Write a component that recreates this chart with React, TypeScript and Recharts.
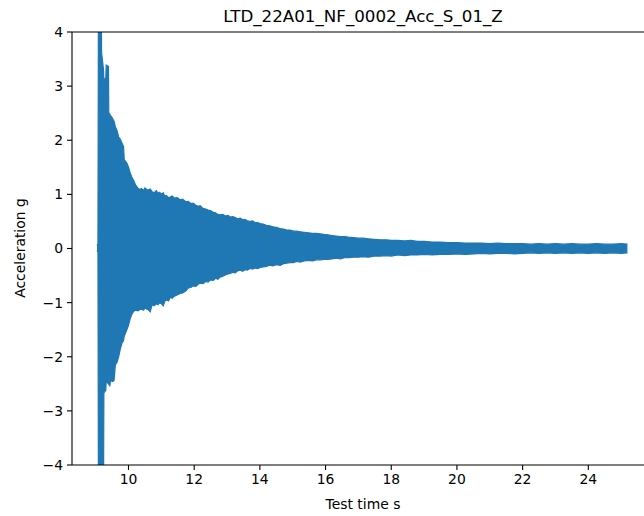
import { Area, ComposedChart, ReferenceLine, XAxis, YAxis } from "recharts";

// envelope of the acceleration signal
const TIME = [
  9.04, 9.07, 9.085, 9.17, 9.18, 9.24, 9.25, 9.31, 9.32, 9.39,
  9.4, 9.43, 9.46, 9.5, 9.56, 9.6, 9.65, 9.7, 9.75, 9.8,
  9.85, 9.87, 9.95, 10.0, 10.05, 10.1, 10.16, 10.22,
  10.28, 10.34, 10.4, 10.46, 10.5, 10.56, 10.6, 10.66, 10.72, 10.78,
  10.85, 10.9, 10.95, 11.0, 11.06, 11.1, 11.15, 11.22, 11.27, 11.33,
  11.4, 11.48, 11.57, 11.65, 11.75, 11.82, 11.9, 11.97, 12.05, 12.12,
  12.18, 12.27, 12.35, 12.42, 12.5, 12.58, 12.65, 12.72, 12.79, 12.87,
  12.95, 13.03, 13.1, 13.18, 13.25, 13.33, 13.4, 13.48, 13.55, 13.62,
  13.7, 13.78, 13.85, 13.93, 14.01, 14.1, 14.2, 14.3, 14.4, 14.5,
  14.62, 14.72, 14.82, 14.92, 15.02, 15.12, 15.23, 15.35, 15.48, 15.6,
  15.72, 15.84, 15.95, 16.08, 16.2, 16.32, 16.45, 16.58, 16.7, 16.85,
  17.0, 17.15, 17.3, 17.48, 17.67, 17.85, 18.0, 18.2, 18.4, 18.6,
  18.8, 19.0, 19.25, 19.5, 19.75, 20.0, 20.25, 20.5, 20.75, 21.0,
  21.25, 21.5, 21.75, 22.0, 22.25, 22.5, 22.75, 23.0, 23.25, 23.5,
  23.75, 24.0, 24.25, 24.5, 24.75, 25.0, 25.19,
];

const UPPER = [
  0.06, 0.08, 4.6, 4.6, 3.62, 3.3, 3.12, 3.15, 3.39, 3.36,
  2.51, 2.48, 2.45, 2.42, 2.35, 2.25, 2.18, 2.06, 2.02, 1.95,
  1.88, 1.64, 1.58, 1.5, 1.4, 1.32, 1.25, 1.17,
  1.12, 1.09, 1.11, 1.07, 1.12, 1.09, 1.08, 1.1, 1.05, 1.03,
  1.07, 1.02, 1.04, 1.0, 1.03, 0.97, 0.98, 0.94, 0.95, 0.97,
  0.93, 0.94, 0.9, 0.91, 0.86, 0.87, 0.83, 0.84, 0.8, 0.78,
  0.79, 0.74, 0.73, 0.71, 0.7, 0.67, 0.66, 0.63, 0.62, 0.63,
  0.6, 0.61, 0.58, 0.59, 0.57, 0.55, 0.56, 0.53, 0.54, 0.51,
  0.5, 0.51, 0.48, 0.48, 0.46, 0.45, 0.43, 0.42, 0.4, 0.39,
  0.37, 0.36, 0.34, 0.34, 0.32, 0.32, 0.31, 0.3, 0.29, 0.28,
  0.28, 0.27, 0.26, 0.25, 0.24, 0.23, 0.22, 0.22, 0.21, 0.2,
  0.19, 0.19, 0.18, 0.17, 0.16, 0.16, 0.15, 0.15, 0.14, 0.15,
  0.13, 0.13, 0.12, 0.12, 0.11, 0.11, 0.1, 0.1, 0.1, 0.09,
  0.1, 0.09, 0.09, 0.09, 0.08, 0.09, 0.08, 0.09, 0.08, 0.09,
  0.08, 0.08, 0.09, 0.08, 0.08, 0.09, 0.08,
];

const LOWER = [
  -0.04, -0.06, -4.6, -4.6, -4.6, -4.6, -2.67, -2.62, -2.45, -2.5,
  -2.3, -2.55, -2.4, -2.46, -2.44, -2.15, -2.1, -2.0, -1.86, -1.75,
  -1.7, -1.62, -1.5, -1.42, -1.3, -1.22, -1.16, -1.14,
  -1.15, -1.13, -1.12, -1.14, -1.1, -1.12, -1.13, -1.17, -1.04, -1.06,
  -1.02, -1.04, -1.0, -1.02, -1.06, -0.98, -0.95, -0.97, -0.9, -0.92,
  -0.88, -0.86, -0.83, -0.82, -0.78, -0.73, -0.72, -0.69, -0.7, -0.66,
  -0.64, -0.65, -0.61, -0.62, -0.58, -0.59, -0.55, -0.57, -0.53, -0.51,
  -0.49, -0.47, -0.46, -0.44, -0.45, -0.41, -0.4, -0.42, -0.39, -0.4,
  -0.37, -0.38, -0.36, -0.37, -0.35, -0.34, -0.33, -0.31, -0.32, -0.3,
  -0.31, -0.28, -0.27, -0.26, -0.26, -0.24, -0.25, -0.23, -0.22, -0.23,
  -0.21, -0.21, -0.2, -0.2, -0.19, -0.18, -0.19, -0.17, -0.17, -0.16,
  -0.16, -0.15, -0.16, -0.14, -0.14, -0.13, -0.14, -0.12, -0.13, -0.12,
  -0.12, -0.11, -0.12, -0.11, -0.11, -0.1, -0.11, -0.1, -0.09, -0.1,
  -0.09, -0.09, -0.1, -0.09, -0.08, -0.09, -0.08, -0.09, -0.08, -0.09,
  -0.08, -0.09, -0.08, -0.09, -0.08, -0.09, -0.08,
];

const X_TICKS = [10, 12, 14, 16, 18, 20, 22, 24];
const Y_TICKS = [-4, -3, -2, -1, 0, 1, 2, 3, 4];

const data = TIME.map((t, i) => ({ t, range: [LOWER[i], UPPER[i]] }));

const BLUE = "#1f77b4";
const FONT = "DejaVu Sans, sans-serif";
const tickStyle = { fontSize: 13.9, fill: "#000", fontFamily: FONT };

export default function App() {
  return (
    <div
      style={{
        position: "absolute",
        left: 0,
        top: 0,
        width: 644,
        height: 516,
        overflow: "hidden",
        background: "#fff",
        fontFamily: FONT,
      }}
    >
      <div
        style={{
          position: "absolute",
          left: 363,
          top: 6,
          transform: "translateX(-50%)",
          fontSize: 16.7,
          whiteSpace: "nowrap",
          color: "#000",
        }}
      >
        LTD_22A01_NF_0002_Acc_S_01_Z
      </div>

      <ComposedChart
        width={660}
        height={516}
        data={data}
        margin={{ top: 32, right: 6, bottom: 0, left: 0 }}
      >
        <XAxis
          dataKey="t"
          type="number"
          domain={[8.28, 26.0]}
          allowDataOverflow
          ticks={X_TICKS}
          height={51}
          tickSize={5}
          tickMargin={4}
          tick={tickStyle}
          stroke="#000"
          axisLine={{ stroke: "#000", strokeWidth: 1.1 }}
          tickLine={{ stroke: "#000", strokeWidth: 1.1 }}
        />
        <YAxis
          type="number"
          domain={[-4, 4]}
          allowDataOverflow
          ticks={Y_TICKS}
          width={72}
          tickSize={5}
          tickMargin={4}
          tick={tickStyle}
          tickFormatter={(v: number) => (v < 0 ? `\u2212${-v}` : `${v}`)}
          stroke="#000"
          axisLine={{ stroke: "#000", strokeWidth: 1.1 }}
          tickLine={{ stroke: "#000", strokeWidth: 1.1 }}
        />
        <ReferenceLine y={4} stroke="#000" strokeWidth={1.1} />
        <Area
          dataKey="range"
          type="linear"
          fill={BLUE}
          fillOpacity={1}
          stroke={BLUE}
          strokeWidth={1.2}
          isAnimationActive={false}
          dot={false}
          activeDot={false}
        />
      </ComposedChart>

      <div
        style={{
          position: "absolute",
          left: 363,
          top: 496,
          transform: "translateX(-50%)",
          fontSize: 13.9,
          whiteSpace: "nowrap",
          color: "#000",
        }}
      >
        Test time s
      </div>
      <div
        style={{
          position: "absolute",
          left: 20,
          top: 248,
          transform: "translate(-50%, -50%) rotate(-90deg)",
          fontSize: 13.9,
          whiteSpace: "nowrap",
          color: "#000",
        }}
      >
        Acceleration g
      </div>
    </div>
  );
}
